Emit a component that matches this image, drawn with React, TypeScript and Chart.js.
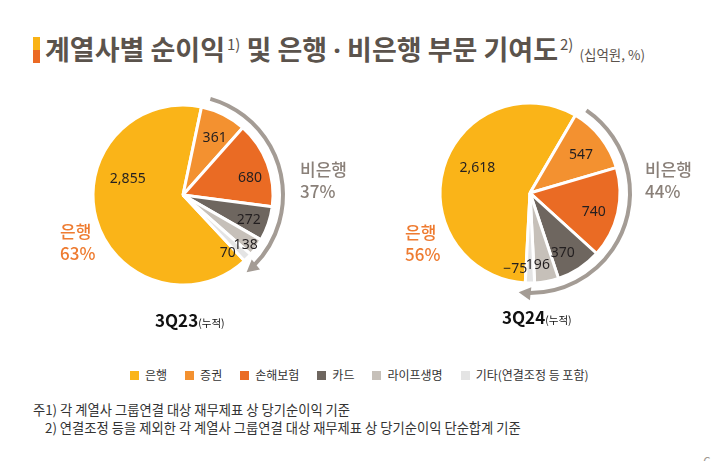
import React, { useEffect, useRef } from "react";
import { Chart, registerables } from "chart.js";

Chart.register(...registerables);

const categories = ["은행", "증권", "손해보험", "카드", "라이프생명", "기타(연결조정 등 포함)"];
const values3Q23 = [2855, 361, 680, 272, 138, 70];
const values3Q24 = [2618, 547, 740, 370, 196, -75];
const periodLabels = ["3Q23", "3Q24"];
const bankShares = ["63%", "56%"];
const nonBankShares = ["37%", "44%"];
const sliceColors = ["#FAB418", "#F39130", "#EA6B24", "#6E665F", "#C6C0B9", "#E4E4E4"];

// label placement per slice: [radius fraction, angle shift in degrees]
const labelPlace3Q23 = [[0.64, 32], [0.72, 2.5], [0.77, 6], [0.78, 2], [0.89, 3], [0.81, 8]];
const labelPlace3Q24 = [[0.65, 9], [0.71, 1], [0.74, 4], [0.76, 4.5], [0.81, 4.5], [0.86, 11]];

const KR = "'Noto Sans CJK KR', 'Noto Sans', sans-serif";

function fmt(v: number) {
  const s = Math.abs(v).toLocaleString("en-US");
  return v < 0 ? "−" + s : s;
}

function PieChart(props: { values: number[]; rotation: number; place: number[][]; left: number; top: number; size: number }) {
  const ref = useRef<HTMLCanvasElement>(null);
  useEffect(() => {
    const { values, place, rotation } = props;
    const labelPlugin = {
      id: "sliceLabels",
      afterDatasetsDraw(chart: any) {
        const ctx = chart.ctx;
        const meta = chart.getDatasetMeta(0);
        meta.data.forEach((arc: any, i: number) => {
          const p = place[i];
          const a = (arc.startAngle + arc.endAngle) / 2 + (p[1] * Math.PI) / 180;
          const r = arc.outerRadius * p[0];
          ctx.save();
          ctx.font = "14px 'Noto Sans', sans-serif";
          ctx.fillStyle = "#231F20";
          ctx.textAlign = "center";
          ctx.textBaseline = "middle";
          ctx.fillText(fmt(values[i]), arc.x + r * Math.cos(a), arc.y + r * Math.sin(a));
          ctx.restore();
        });
      },
    };
    const arrowPlugin = {
      id: "nonBankArrow",
      afterDatasetsDraw(chart: any) {
        const ctx = chart.ctx;
        const arcs = chart.getDatasetMeta(0).data;
        const first = arcs[1];
        const last = arcs[arcs.length - 1];
        const cx = first.x;
        const cy = first.y;
        const R = first.outerRadius + 10;
        const a0 = first.startAngle + (4 * Math.PI) / 180;
        const a1 = last.endAngle + (3.5 * Math.PI) / 180;
        const L = 12;
        const W = 6.5;
        ctx.save();
        ctx.strokeStyle = "#A49C95";
        ctx.fillStyle = "#A49C95";
        ctx.lineWidth = 4;
        ctx.beginPath();
        ctx.arc(cx, cy, R, a0, a1 - (L - 2) / R);
        ctx.stroke();
        const tx = cx + R * Math.cos(a1);
        const ty = cy + R * Math.sin(a1);
        const dx = -Math.sin(a1);
        const dy = Math.cos(a1);
        const bx = tx - dx * L;
        const by = ty - dy * L;
        const nx = Math.cos(a1);
        const ny = Math.sin(a1);
        ctx.beginPath();
        ctx.moveTo(tx, ty);
        ctx.lineTo(bx + nx * W, by + ny * W);
        ctx.lineTo(bx - nx * W, by - ny * W);
        ctx.closePath();
        ctx.fill();
        ctx.restore();
      },
    };
    const chart = new Chart(ref.current as HTMLCanvasElement, {
      type: "pie",
      data: {
        labels: categories,
        datasets: [
          {
            data: values,
            backgroundColor: sliceColors,
            borderColor: "#ffffff",
            borderWidth: 3,
            rotation,
            radius: 90,
          } as any,
        ],
      },
      options: {
        responsive: false,
        animation: false,
        rotation,
        radius: 90,
        layout: { padding: 0 },
        events: [],
        plugins: { legend: { display: false }, tooltip: { enabled: false } },
      } as any,
      plugins: [labelPlugin, arrowPlugin],
    });
    return () => chart.destroy();
  }, []);
  return (
    <canvas
      ref={ref}
      width={props.size}
      height={props.size}
      style={{ position: "absolute", left: props.left, top: props.top, width: props.size, height: props.size }}
    />
  );
}

function TwoLine(props: { left: number; top: number; lines: string[]; color: string }) {
  return (
    <div
      style={{
        position: "absolute",
        left: props.left,
        top: props.top,
        color: props.color,
        fontFamily: KR,
        fontSize: 17,
        fontWeight: 500,
        lineHeight: "22px",
        whiteSpace: "nowrap",
      }}
    >
      {props.lines.map((l, i) => (
        <div key={i}>{l}</div>
      ))}
    </div>
  );
}

function Caption(props: { left: number; top: number; label: string }) {
  return (
    <div style={{ position: "absolute", left: props.left, top: props.top, whiteSpace: "nowrap", color: "#111", fontFamily: KR, lineHeight: "20px" }}>
      <span style={{ fontSize: 17, fontWeight: 700 }}>{props.label}</span>
      <span style={{ fontSize: 10.5 }}>(누적)</span>
    </div>
  );
}

const sup: React.CSSProperties = { fontSize: 15, fontWeight: 400, position: "relative", top: -10, marginLeft: 2 };

export default function App() {
  return (
    <div style={{ position: "absolute", left: 0, top: 0, width: 724, height: 461, background: "#fff", overflow: "hidden", fontFamily: KR }}>
      <div style={{ position: "absolute", left: 33, top: 37, width: 7, height: 26, background: "linear-gradient(#F9B215 50%, #EB6A24 50%)" }} />
      <div style={{ position: "absolute", left: 45, top: 33, fontSize: 27, fontWeight: 700, color: "#5B534C", lineHeight: "32px", whiteSpace: "nowrap", fontFamily: KR }}>
        계열사별 순이익
        <span style={sup}>1)</span> 및 은행 <span style={{ fontFamily: "'Noto Sans', sans-serif" }}>·</span> 비은행 부문 기여도
        <span style={sup}>2)</span>
        <span style={{ fontSize: 13.5, fontWeight: 400, marginLeft: 6 }}>(십억원, %)</span>
      </div>

      <PieChart values={values3Q23} rotation={137} place={labelPlace3Q23} left={58} top={70} size={250} />
      <PieChart values={values3Q24} rotation={183} place={labelPlace3Q24} left={405} top={68} size={250} />

      <TwoLine left={300} top={158} lines={["비은행", nonBankShares[0]]} color="#8A8079" />
      <TwoLine left={60} top={220} lines={["은행", bankShares[0]]} color="#EE7B30" />
      <TwoLine left={645} top={158} lines={["비은행", nonBankShares[1]]} color="#8A8079" />
      <TwoLine left={405} top={221} lines={["은행", bankShares[1]]} color="#EE7B30" />

      <Caption left={155} top={310} label={periodLabels[0]} />
      <Caption left={502} top={307} label={periodLabels[1]} />

      <div style={{ position: "absolute", left: 130, top: 366, display: "flex", gap: 18, alignItems: "center", fontSize: 12, color: "#333", lineHeight: "18px", whiteSpace: "nowrap" }}>
        {categories.map((c, i) => (
          <div key={c} style={{ display: "flex", alignItems: "center" }}>
            <span style={{ display: "inline-block", width: 9, height: 9, background: sliceColors[i], marginRight: 6 }} />
            <span>{c}</span>
          </div>
        ))}
      </div>

      <div style={{ position: "absolute", left: 33, top: 401, fontSize: 13.3, color: "#333", lineHeight: "17px", whiteSpace: "nowrap" }}>
        주1) 각 계열사 그룹연결 대상 재무제표 상 당기순이익 기준
      </div>
      <div style={{ position: "absolute", left: 45, top: 419, fontSize: 13.3, color: "#333", lineHeight: "17px", whiteSpace: "nowrap" }}>
        2) 연결조정 등을 제외한 각 계열사 그룹연결 대상 재무제표 상 당기순이익 단순합계 기준
      </div>
      <div style={{ position: "absolute", left: 703, top: 452, fontSize: 14, color: "#A09890", lineHeight: "18px" }}>6</div>
    </div>
  );
}
